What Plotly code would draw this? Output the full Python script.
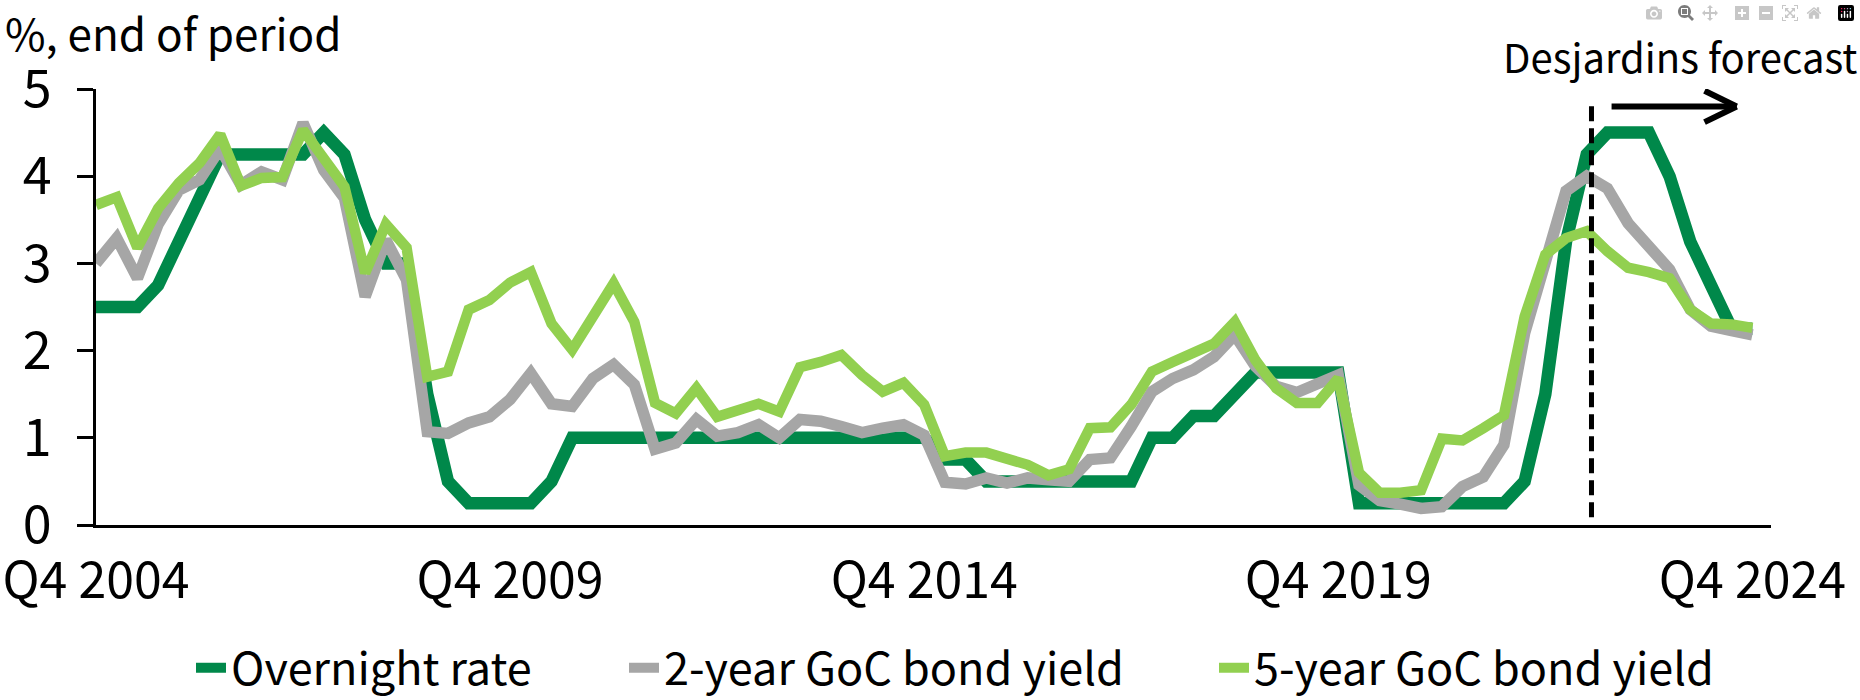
import plotly.graph_objects as go

# ---- data -------------------------------------------------------------
quarters = [f"Q{q} {y}" for y in range(2004, 2025) for q in range(1, 5)][3:]  # Q4 2004 .. Q4 2024

overnight_rate = [
    2.5, 2.5, 2.5, 2.75, 3.25, 3.75, 4.25, 4.25, 4.25, 4.25,
    4.25, 4.5, 4.25, 3.5, 3.0, 3.0, 1.5, 0.5, 0.25, 0.25,
    0.25, 0.25, 0.5, 1.0, 1.0, 1.0, 1.0, 1.0, 1.0, 1.0,
    1.0, 1.0, 1.0, 1.0, 1.0, 1.0, 1.0, 1.0, 1.0, 1.0,
    1.0, 0.75, 0.75, 0.5, 0.5, 0.5, 0.5, 0.5, 0.5, 0.5,
    0.5, 1.0, 1.0, 1.25, 1.25, 1.5, 1.75, 1.75, 1.75, 1.75,
    1.75, 0.25, 0.25, 0.25, 0.25, 0.25, 0.25, 0.25, 0.25, 0.5,
    1.5, 3.25, 4.25, 4.5, 4.5, 4.5, 4.0, 3.25, 2.75, 2.25,
    2.25,
]

goc_2y = [
    3.0, 3.29, 2.83, 3.45, 3.84, 3.96, 4.32, 3.9, 4.05, 3.96,
    4.61, 4.07, 3.75, 2.62, 3.27, 2.81, 1.07, 1.05, 1.17, 1.24,
    1.44, 1.74, 1.39, 1.36, 1.68, 1.84, 1.61, 0.87, 0.94, 1.21,
    1.02, 1.06, 1.15, 1.0, 1.21, 1.19, 1.13, 1.06, 1.11, 1.15,
    1.03, 0.49, 0.47, 0.54, 0.48, 0.54, 0.52, 0.5, 0.75, 0.77,
    1.13, 1.53, 1.68, 1.78, 1.93, 2.18, 1.82, 1.59, 1.52, 1.63,
    1.72, 0.46, 0.28, 0.24, 0.19, 0.21, 0.44, 0.55, 0.92, 2.2,
    3.05, 3.83, 4.0, 3.86, 3.46, 3.18, 2.93, 2.47, 2.28, 2.23,
    2.18,
]

goc_5y = [
    3.67, 3.76, 3.18, 3.63, 3.92, 4.15, 4.48, 3.89, 3.98, 3.99,
    4.53, 4.21, 3.88, 2.89, 3.45, 3.18, 1.7, 1.76, 2.47, 2.58,
    2.78, 2.9, 2.31, 2.01, 2.41, 2.77, 2.33, 1.4, 1.28, 1.57,
    1.24, 1.3, 1.39, 1.3, 1.81, 1.87, 1.95, 1.72, 1.53, 1.63,
    1.38, 0.79, 0.83, 0.83, 0.75, 0.69, 0.57, 0.64, 1.11, 1.12,
    1.38, 1.76, 1.87, 1.98, 2.08, 2.33, 1.89, 1.57, 1.4, 1.4,
    1.68, 0.6, 0.37, 0.37, 0.4, 0.99, 0.97, 1.11, 1.26, 2.39,
    3.1, 3.29, 3.37, 3.14, 2.95, 2.9, 2.83, 2.47, 2.31, 2.3,
    2.26,
]

tick_labels = ["Q4 2004", "Q4 2009", "Q4 2014", "Q4 2019", "Q4 2024"]
series_names = ["Overnight rate", "2-year GoC bond yield", "5-year GoC bond yield"]
forecast_boundary = 72.23  # just after Q4 2022 (last actual)

# ---- style ------------------------------------------------------------
FONT = "Noto Sans CJK JP, Noto Sans, sans-serif"
colors = ["#00884A", "#A6A6A6", "#92D050"]
widths = [12.5, 11.5, 10.5]

W, H = 1860, 700
ML, MR, MT, MB = 96, 89, 89, 175
PW, PH = W - ML - MR, H - MT - MB


def px_x(p):
    return (p - ML) / PW


def px_y(p):
    return (H - MB - p) / PH


fig = go.Figure()
legend_ids = ["legend", "legend2", "legend3"]
for name, ys, c, w, lg in zip(series_names, [overnight_rate, goc_2y, goc_5y], colors, widths, legend_ids):
    fig.add_trace(go.Scatter(x=quarters, y=ys, mode="lines", name=name,
                             line=dict(color=c, width=w), legend=lg, hoverinfo="skip"))

leg_common = dict(orientation="h", xanchor="left", yanchor="middle", yref="paper",
                  font=dict(family=FONT, size=45, color="black"), bgcolor="rgba(0,0,0,0)",
                  borderwidth=0, itemwidth=30)

fig.update_layout(
    width=W, height=H, template="none",
    paper_bgcolor="white", plot_bgcolor="white",
    margin=dict(l=ML, r=MR, t=MT, b=MB, autoexpand=False),
    font=dict(family=FONT, size=50, color="black"),
    xaxis=dict(type="category", range=[0, 80.9], tickvals=tick_labels, ticktext=tick_labels,
               showline=True, linecolor="black", linewidth=3, ticks="", showgrid=False,
               zeroline=False, tickfont=dict(family=FONT, size=50, color="black"),
               ticklabelstandoff=10),
    yaxis=dict(range=[0, 5], tickvals=[0, 1, 2, 3, 4, 5], showline=True, linecolor="black",
               linewidth=3, ticks="outside", ticklen=16, tickwidth=3, tickcolor="black",
               showgrid=False, zeroline=False, tickfont=dict(family=FONT, size=52, color="black"),
               ticklabelstandoff=15),
    legend=dict(x=px_x(191), y=px_y(668), **leg_common),
    legend2=dict(x=px_x(624), y=px_y(668), **leg_common),
    legend3=dict(x=px_x(1214), y=px_y(668), **leg_common),
    showlegend=True,
)

# forecast marker
fig.add_shape(type="line", xref="x", yref="y", x0=forecast_boundary, x1=forecast_boundary,
              y0=0.09, y1=4.85, line=dict(color="black", width=5, dash="15px,7px"))
arrow_y, arrow_x0, arrow_tip = 4.8, 73.2, 79.24
fig.add_shape(type="line", xref="x", yref="y", x0=arrow_x0, x1=arrow_tip, y0=arrow_y, y1=arrow_y,
              line=dict(color="black", width=6))
for dy in (0.18, -0.18):
    fig.add_shape(type="line", xref="x", yref="y", x0=arrow_tip - 1.55, x1=arrow_tip,
                  y0=arrow_y + dy, y1=arrow_y, line=dict(color="black", width=6))

fig.add_annotation(text="%, end of period", xref="paper", yref="paper", x=px_x(3), y=px_y(32),
                   xanchor="left", yanchor="middle", showarrow=False,
                   font=dict(family=FONT, size=44, color="black"))
fig.add_annotation(text="Desjardins forecast", xref="paper", yref="paper", x=px_x(1680), y=px_y(56),
                   xanchor="center", yanchor="middle", showarrow=False,
                   font=dict(family=FONT, size=40, color="black"))

fig.write_html("out.html", post_script="document.body.style.margin='0';")
